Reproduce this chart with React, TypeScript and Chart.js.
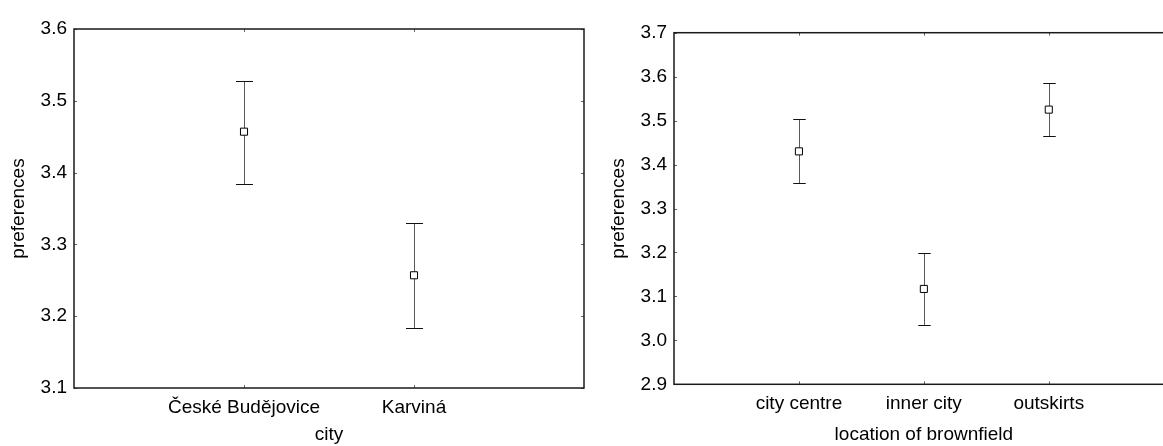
import React, { useEffect, useRef } from 'react';
import { Chart, registerables } from 'chart.js';

Chart.register(...registerables);

// ---- Data: left panel (city) ----
const cityCategories = ['České Budějovice', 'Karviná'];
const cityMeans = [3.457, 3.257];
const cityLower = [3.384, 3.183];
const cityUpper = [3.528, 3.33];
const cityYTicks = [3.1, 3.2, 3.3, 3.4, 3.5, 3.6];

// ---- Data: right panel (location of brownfield) ----
const locationCategories = ['city centre', 'inner city', 'outskirts'];
const locationMeans = [3.43, 3.117, 3.525];
const locationLower = [3.357, 3.035, 3.464];
const locationUpper = [3.503, 3.198, 3.585];
const locationYTicks = [2.9, 3.0, 3.1, 3.2, 3.3, 3.4, 3.5, 3.6, 3.7];

const FONT = '"Liberation Sans", Arial, sans-serif';
const FONT_SIZE = 19;

type PanelSpec = {
  categories: string[];
  means: number[];
  lower: number[];
  upper: number[];
  yTicks: number[];
  yTitle: string;
  xTitle: string;
  padTop: number;
  padRight: number;
  xAxisHeight: number;
  xTickPad: number;
  xTitlePad: number;
};

function makeFramePlugin(spec: PanelSpec) {
  return {
    id: 'frameAndErrors',
    beforeDatasetsDraw(chart: any) {
      const { ctx, scales } = chart;
      const x = scales.x;
      const y = scales.y;
      const half = 0.05 * (x.getPixelForValue(1) - x.getPixelForValue(0));
      ctx.save();
      spec.lower.forEach((lo, i) => {
        const px = Math.round(x.getPixelForValue(i + 1)) + 0.5;
        const pl = Math.round(y.getPixelForValue(lo)) + 0.5;
        const pu = Math.round(y.getPixelForValue(spec.upper[i])) + 0.5;
        ctx.lineWidth = 1;
        ctx.strokeStyle = '#5a5a5a';
        ctx.beginPath();
        ctx.moveTo(px, pl);
        ctx.lineTo(px, pu);
        ctx.stroke();
        ctx.strokeStyle = '#111';
        ctx.beginPath();
        ctx.moveTo(px - half, pl);
        ctx.lineTo(px + half, pl);
        ctx.moveTo(px - half, pu);
        ctx.lineTo(px + half, pu);
        ctx.stroke();
      });
      ctx.restore();
    },
    afterDatasetsDraw(chart: any) {
      const { ctx, chartArea: a, scales } = chart;
      const x = scales.x;
      const y = scales.y;
      ctx.save();
      // inside tick marks
      ctx.strokeStyle = '#666';
      ctx.lineWidth = 1;
      ctx.beginPath();
      y.ticks.forEach((t: any) => {
        const py = Math.round(y.getPixelForValue(t.value)) + 0.5;
        ctx.moveTo(a.left, py);
        ctx.lineTo(a.left + 3, py);
        ctx.moveTo(a.right, py);
        ctx.lineTo(a.right - 3, py);
      });
      x.ticks.forEach((t: any) => {
        const px = Math.round(x.getPixelForValue(t.value)) + 0.5;
        ctx.moveTo(px, a.bottom);
        ctx.lineTo(px, a.bottom - 3);
        ctx.moveTo(px, a.top);
        ctx.lineTo(px, a.top + 3);
      });
      ctx.stroke();
      // frame
      ctx.strokeStyle = '#1a1a1a';
      ctx.lineWidth = 1.5;
      ctx.strokeRect(a.left, a.top, a.right - a.left, a.bottom - a.top);
      ctx.restore();
    },
  };
}

function makeConfig(spec: PanelSpec): any {
  const n = spec.categories.length;
  const font = { family: FONT, size: FONT_SIZE };
  return {
    type: 'scatter',
    data: {
      datasets: [
        {
          data: spec.means.map((m, i) => ({ x: i + 1, y: m })),
          pointStyle: 'rect',
          pointRadius: 5,
          pointBorderWidth: 1,
          pointBorderColor: '#000',
          pointBackgroundColor: '#fff',
          showLine: false,
        },
      ],
    },
    options: {
      responsive: false,
      animation: false,
      devicePixelRatio: 1,
      layout: { padding: { top: spec.padTop, right: spec.padRight, left: 0, bottom: 0 } },
      plugins: { legend: { display: false }, tooltip: { enabled: false } },
      scales: {
        x: {
          type: 'linear',
          min: 0,
          max: n + 1,
          afterBuildTicks: (scale: any) => {
            scale.ticks = spec.categories.map((_, i) => ({ value: i + 1 }));
          },
          afterFit: (scale: any) => {
            scale.height = spec.xAxisHeight;
          },
          grid: { display: false, drawTicks: false, tickLength: 0 },
          border: { display: false },
          ticks: {
            autoSkip: false,
            maxRotation: 0,
            minRotation: 0,
            padding: spec.xTickPad,
            color: '#000',
            font,
            callback: (v: number) => spec.categories[Math.round(v) - 1] ?? '',
          },
          title: {
            display: true,
            text: spec.xTitle,
            color: '#000',
            font,
            padding: { top: spec.xTitlePad, bottom: 0 },
          },
        },
        y: {
          type: 'linear',
          min: spec.yTicks[0],
          max: spec.yTicks[spec.yTicks.length - 1],
          afterBuildTicks: (scale: any) => {
            scale.ticks = spec.yTicks.map((v) => ({ value: v }));
          },
          afterFit: (scale: any) => {
            scale.width = 74;
          },
          grid: { display: false, drawTicks: false, tickLength: 0 },
          border: { display: false },
          ticks: {
            padding: 7,
            color: '#000',
            font,
            callback: (v: number) => Number(v).toFixed(1),
          },
          title: {
            display: true,
            text: spec.yTitle,
            color: '#000',
            font,
            padding: { top: 7.6, bottom: 0 },
          },
        },
      },
    },
    plugins: [makeFramePlugin(spec)],
  };
}

const leftSpec: PanelSpec = {
  categories: cityCategories,
  means: cityMeans,
  lower: cityLower,
  upper: cityUpper,
  yTicks: cityYTicks,
  yTitle: 'preferences',
  xTitle: 'city',
  padTop: 29,
  padRight: 16,
  xAxisHeight: 58,
  xTickPad: 8.6,
  xTitlePad: 6.6,
};

const rightSpec: PanelSpec = {
  categories: locationCategories,
  means: locationMeans,
  lower: locationLower,
  upper: locationUpper,
  yTicks: locationYTicks,
  yTitle: 'preferences',
  xTitle: 'location of brownfield',
  padTop: 32.7,
  padRight: 26.3,
  xAxisHeight: 61.7,
  xTickPad: 7.6,
  xTitlePad: 2.9,
};

function Panel({ spec, left }: { spec: PanelSpec; left: number }) {
  const ref = useRef<HTMLCanvasElement | null>(null);
  useEffect(() => {
    if (!ref.current) return;
    const chart = new Chart(ref.current, makeConfig(spec));
    return () => chart.destroy();
  }, [spec]);
  return (
    <div style={{ position: 'absolute', left, top: 0, width: 600, height: 446 }}>
      <canvas ref={ref} width={600} height={446} style={{ display: 'block' }} />
    </div>
  );
}

export default function App() {
  return (
    <div
      style={{
        position: 'absolute',
        left: 0,
        top: 0,
        width: 1163,
        height: 446,
        overflow: 'hidden',
        background: '#fff',
      }}
    >
      <Panel spec={leftSpec} left={0} />
      <Panel spec={rightSpec} left={600} />
    </div>
  );
}
